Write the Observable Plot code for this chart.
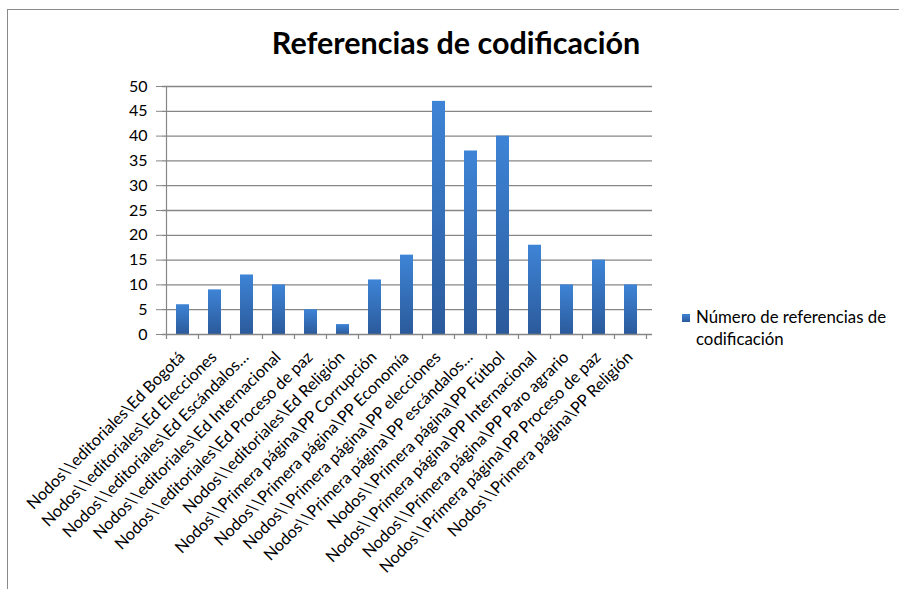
<!DOCTYPE html>
<html><head><meta charset="utf-8">
<script src="https://cdn.jsdelivr.net/npm/d3@7"></script>
<script src="https://cdn.jsdelivr.net/npm/@observablehq/plot@0.6"></script>
<style>
body{margin:0;background:#fff;width:899px;height:589px;overflow:hidden;position:relative;font-family:Lato,"Liberation Sans",sans-serif;color:#000}
#border{position:absolute;left:7px;top:9px;width:900px;height:600px;border-left:1.5px solid #8a8a8a;border-top:1.5px solid #8a8a8a;box-sizing:border-box}
#title{position:absolute;left:0;width:912px;top:22px;text-align:center;font-weight:bold;font-size:30.5px;line-height:40px}
#chart{position:absolute;left:0;top:0}
#legend{position:absolute;left:682px;top:306px;font-size:16.8px;line-height:22px}
#legend .sw{position:absolute;left:0;top:8px;width:8px;height:8px;background:linear-gradient(#3d82d4,#2b5a9b)}
#legend .tx{margin-left:14px;width:215px}
</style></head>
<body>
<div id="border"></div>
<div id="chart"></div>
<div id="title">Referencias de codificación</div>
<div id="legend"><div class="sw"></div><div class="tx">Número de referencias de<br>codificación</div></div>
<script>
const categories = [
  "Nodos\\\\editoriales\\Ed Bogotá",
  "Nodos\\\\editoriales\\Ed Elecciones",
  "Nodos\\\\editoriales\\Ed Escándalos…",
  "Nodos\\\\editoriales\\Ed Internacional",
  "Nodos\\\\editoriales\\Ed Proceso de paz",
  "Nodos\\\\editoriales\\Ed Religión",
  "Nodos\\\\Primera página\\PP Corrupción",
  "Nodos\\\\Primera página\\PP Economía",
  "Nodos\\\\Primera página\\PP elecciones",
  "Nodos\\\\Primera página\\PP escándalos…",
  "Nodos\\\\Primera página\\PP Fútbol",
  "Nodos\\\\Primera página\\PP Internacional",
  "Nodos\\\\Primera página\\PP Paro agrario",
  "Nodos\\\\Primera página\\PP Proceso de paz",
  "Nodos\\\\Primera página\\PP Religión"
];
const values = [6, 9, 12, 10, 5, 2, 11, 16, 47, 37, 40, 18, 10, 15, 10];
const yTicks = [0, 5, 10, 15, 20, 25, 30, 35, 40, 45, 50];
const seriesName = "Número de referencias de codificación";

const data = categories.map((c, i) => ({category: c, value: values[i], series: seriesName}));

const NS = "http://www.w3.org/2000/svg";
const gradientDefs = () => {
  const defs = document.createElementNS(NS, "defs");
  defs.innerHTML = `<linearGradient id="barGrad" x1="0" y1="0" x2="0" y2="1">
    <stop offset="0" stop-color="#3e84d6"/><stop offset="1" stop-color="#2b5a9b"/></linearGradient>`;
  return defs;
};

const axisLines = function(index, scales, values, dims) {
  const x = scales.x, y = scales.y;
  const g = document.createElementNS(NS, "g");
  const step = x(categories[1]) - x(categories[0]);
  const bw = x.bandwidth ? x.bandwidth() : step * (1 - 0.59);
  const y0 = y(0), yTop = y(50);
  const mk = (x1, y1, x2, y2) => {
    const l = document.createElementNS(NS, "line");
    l.setAttribute("x1", x1); l.setAttribute("y1", y1);
    l.setAttribute("x2", x2); l.setAttribute("y2", y2);
    l.setAttribute("stroke", "#868686"); l.setAttribute("stroke-width", 1.2);
    g.appendChild(l);
  };
  const left = x(categories[0]) + bw / 2 - step / 2;
  mk(left, yTop, left, y0 + 5);
  categories.forEach(c => {
    const b = x(c) + bw / 2 + step / 2;
    mk(b, y0, b, y0 + 5);
  });
  return g;
};

const plot = Plot.plot({
  width: 899,
  height: 589,
  marginLeft: 162,
  marginRight: 247,
  marginTop: 86,
  marginBottom: 255,
  style: {fontFamily: "Lato, 'Liberation Sans', sans-serif", fontSize: "15px", color: "#000", background: "transparent"},
  x: {type: "band", domain: categories, paddingInner: 0.59, paddingOuter: 0.295, label: null},
  y: {domain: [0, 50], label: null},
  marks: [
    gradientDefs,
    Plot.gridY(yTicks.slice(1), {stroke: "#868686", strokeOpacity: 1, strokeWidth: 1.3}),
    Plot.axisY(yTicks, {tickSize: 6, tickPadding: 9, stroke: "#868686", strokeOpacity: 1, fill: "#000", fontSize: 16, label: null}),
    Plot.axisX({tickSize: 0, tickPadding: 20, dx: -1, tickRotate: -45, fill: "#000", fontSize: 16.3, label: null}),
    Plot.barY(data, {x: "category", y: "value", fill: "url(#barGrad)"}),
    Plot.ruleY([0], {stroke: "#868686", strokeWidth: 1.3}),
    axisLines
  ]
});
document.getElementById("chart").appendChild(plot);
</script>
</body></html>
